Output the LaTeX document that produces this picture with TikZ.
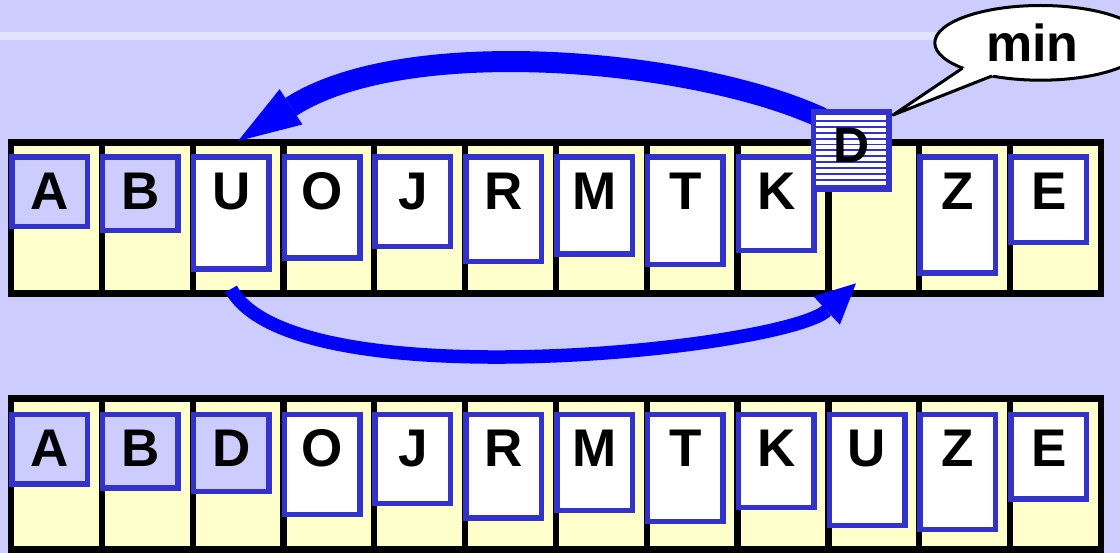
\documentclass[tikz,border=0pt]{standalone}
\usepackage{fontspec}
\setmainfont{Liberation Sans}
\usetikzlibrary{arrows.meta,shapes.geometric}
\definecolor{bg}{HTML}{CCCCFF}
\definecolor{stripecol}{HTML}{E3E3FF}
\definecolor{cellfill}{HTML}{FFFFCC}
\definecolor{cardblue}{HTML}{3333CC}
\definecolor{arrowblue}{HTML}{0000FF}
\definecolor{lav}{HTML}{CCCCFF}
\tikzset{
  cell/.style={rectangle, draw=black, line width=6.3pt, fill=cellfill, minimum width=90.83pt, minimum height=151pt, inner sep=0pt, outer sep=0pt, anchor=north west},
  card/.style={rectangle, draw=cardblue, line width=5.5pt, minimum width=75.5pt, inner sep=0pt, outer sep=0pt, anchor=north west},
  letter/.style={font=\fontsize{53}{53}\selectfont\bfseries, inner sep=0pt, anchor=base},
  movearrow/.style={draw=arrowblue, line cap=butt},
  bubble/.style={ellipse, draw=black, line width=3pt, fill=white, minimum width=211.6pt, minimum height=74.7pt, inner sep=0pt, outer sep=0pt},
}
\begin{document}
\begin{tikzpicture}[x=1pt,y=-1pt]
\useasboundingbox (0,0) rectangle (1120,553);
\clip (0,0) rectangle (1120,553);
\fill[bg] (0,0) rectangle (1120,553);
\fill[stripecol] (0,31.7) rectangle (1120,40);

% cells of both arrays
\foreach \i in {0,...,11} {
  \node[cell] (t\i) at ({11+90.83*\i},142.5) {};
  \node[cell] (b\i) at ({11+90.83*\i},398.5) {};
}

% top row cards
\foreach \i/\lt/\hh/\fc in {0/A/69.5/lav,1/B/73.5/lav,2/U/112/white,3/O/101/white,4/J/89.5/white,5/R/104.3/white,6/M/97/white,7/T/107.5/white,8/K/93.5/white,10/Z/116/white,11/E/85.3/white} {
  \node[card, fill=\fc, minimum height=\hh pt] (tc\i) at ({11.9+90.83*\i},157) {};
  \node[letter] (tl\i) at ([yshift=-52.3pt]tc\i.north) {\lt};
}

% bottom row cards
\foreach \i/\lt/\hh/\fc in {0/A/69.4/lav,1/B/73.4/lav,2/D/77/lav,3/O/100/white,4/J/88.75/white,5/R/103.5/white,6/M/96/white,7/T/107/white,8/K/92.75/white,9/U/111/white,10/Z/115/white,11/E/84.5/white} {
  \node[card, fill=\fc, minimum height=\hh pt] (bc\i) at ({11.9+90.83*\i},414.5) {};
  \node[letter] (bl\i) at ([yshift=-52.3pt]bc\i.north) {\lt};
}

% arrows
\coordinate (arrT1) at (822,118);
\draw[movearrow, line width=21pt, -{Triangle[length=63pt 0 0,width=42pt 0 0,line width=0pt 0 0]}]
  (arrT1) .. controls (694.8,58.8) and (405.6,32.9) .. ([yshift=1.5pt]t2.north);
\coordinate (arrB1) at (231,289);
\coordinate (arrB2) at (856,283.3);
\draw[movearrow, line width=13.5pt, -{Triangle[length=40pt 0 0,width=38.7pt 0 0,line width=0pt 0 0]}]
  (arrB1) .. controls (292.5,401.7) and (785.2,349) .. (arrB2);

% the minimum element D, lifted out
\node[card, fill=white, minimum height=77.2pt] (dbox) at (813.5,111.8) {};
\foreach \k in {0,...,11} {
  \draw[cardblue, line width=1.8pt] (816.3,{121+5.88*\k}) -- (886.2,{121+5.88*\k});
}
\node[letter, font=\fontsize{50}{50}\selectfont\bfseries] (dl) at ([yshift=-50.9pt]dbox.north) {D};

% callout "min"
\node[bubble] (callout) at (1040.6,42.85) {};
\coordinate (ptip) at (893,115);
\coordinate (p1) at (962.6,68.1);
\coordinate (p2) at (991.9,76.0);
\fill[white] (ptip) -- (p1) -- (974.3,64.3) -- (999.2,71.0) -- (p2) -- cycle;
\draw[black, line width=3pt, line join=round] (p1) -- (ptip) -- (p2);
\node[font=\fontsize{52}{52}\selectfont\bfseries, anchor=base, inner sep=0pt] (mintext) at (1032.5,61.7) {min};
\end{tikzpicture}
\end{document}
